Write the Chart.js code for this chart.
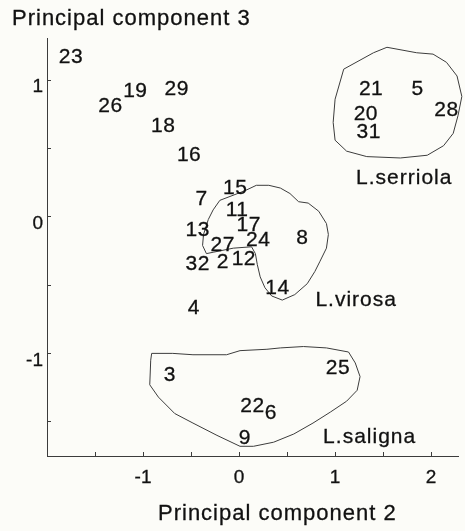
<!DOCTYPE html>
<html>
<head>
<meta charset="utf-8">
<script src="https://cdn.jsdelivr.net/npm/chart.js@4/dist/chart.umd.min.js"></script>
<style>
  html, body { margin: 0; padding: 0; background: #fcfcf8; }
  #wrap { width: 465px; height: 531px; }
</style>
</head>
<body>
<div id="wrap"><canvas id="c" width="465" height="531"></canvas></div>
<script>
// Sample numbers and their scores on principal components 2 and 3
const sampleIds = ['23','26','19','29','18','16','7','15','11','17','13','24','27','8','32','2','12','14','4','3','25','22','6','9','21','5','28','20','31'];
const pc2 = [-1.75,-1.34,-1.08,-0.65,-0.79,-0.52,-0.39,-0.04,-0.02,0.10,-0.43,0.20,-0.17,0.66,-0.43,-0.17,0.05,0.40,-0.47,-0.72,1.03,0.14,0.33,0.06,1.375,1.86,2.16,1.32,1.35];
const pc3 = [1.17,0.81,0.92,0.93,0.66,0.45,0.13,0.21,0.05,-0.06,-0.10,-0.17,-0.21,-0.16,-0.35,-0.33,-0.31,-0.52,-0.67,-1.16,-1.11,-1.39,-1.44,-1.62,0.93,0.93,0.78,0.75,0.62];

// Hand-drawn species outlines, as (pc2, pc3) vertices
const serriolaX = [1.09,1.40,1.54,1.85,2.02,2.16,2.27,2.32,2.28,2.23,2.13,1.96,1.68,1.33,1.12,1.00,0.98,1.00,1.09];
const serriolaY = [1.08,1.20,1.24,1.20,1.19,1.13,1.03,0.88,0.74,0.61,0.52,0.45,0.43,0.44,0.48,0.56,0.69,0.86,1.08];
const virosaX = [-0.20,0.06,0.18,0.31,0.43,0.53,0.62,0.72,0.83,0.91,0.93,0.91,0.84,0.79,0.71,0.58,0.45,0.34,0.27,0.22,0.19,0.17,0.13,-0.06,-0.27,-0.34,-0.38,-0.37,-0.32,-0.27,-0.20];
const virosaY = [0.12,0.19,0.23,0.23,0.21,0.17,0.11,0.10,0.04,-0.05,-0.13,-0.23,-0.33,-0.40,-0.49,-0.57,-0.61,-0.58,-0.52,-0.44,-0.35,-0.27,-0.22,-0.23,-0.26,-0.27,-0.21,-0.13,-0.02,0.05,0.12];
const salignaX = [-0.91,-0.69,-0.48,-0.13,0.01,0.29,0.43,0.67,0.91,1.14,1.21,1.26,1.23,1.12,0.95,0.77,0.57,0.36,0.15,0.01,-0.23,-0.48,-0.67,-0.84,-0.93,-0.92,-0.91];
const salignaY = [-1.00,-1.00,-1.01,-1.01,-0.98,-0.97,-0.96,-0.95,-0.96,-0.99,-1.07,-1.17,-1.27,-1.35,-1.43,-1.51,-1.59,-1.65,-1.68,-1.68,-1.60,-1.51,-1.44,-1.32,-1.23,-1.05,-1.00];

// Species names and where they sit in the plot (pc2, pc3)
const speciesNames = ['L.serriola','L.virosa','L.saligna'];
const speciesX = [1.72, 1.22, 1.36];
const speciesY = [0.28, -0.61, -1.61];

// Axis tick positions (labels only on whole numbers)
const xTicks = [-1.5,-1,-0.5,0,0.5,1,1.5,2];
const yTicks = [-1.5,-1,-0.5,0,0.5,1];

const xTitle = 'Principal component 2';
const yTitle = 'Principal component 3';

const FONT = '"Liberation Sans", Arial, Helvetica, sans-serif';
const INK = '#111111';
const LINE = '#3c3c3c';
const STROKE = 0.3;

const toPoints = (xs, ys) => xs.map((x, i) => ({ x, y: ys[i] }));
const outline = (xs, ys) => ({
  data: toPoints(xs, ys),
  showLine: true,
  pointRadius: 0,
  borderColor: LINE,
  borderWidth: 1,
  tension: 0,
  clip: false
});

// Filled text with a hairline stroke so the glyphs read a little heavier
function inkText(ctx, text, x, y) {
  ctx.fillText(text, x, y);
  ctx.strokeText(text, x, y);
}

const labelPlugin = {
  id: 'labels',
  afterDatasetsDraw(chart) {
    const ctx = chart.ctx;
    const xs = chart.scales.x, ys = chart.scales.y;
    ctx.save();
    ctx.fillStyle = INK;
    ctx.strokeStyle = INK;
    ctx.lineWidth = STROKE;
    ctx.textAlign = 'center';
    ctx.textBaseline = 'middle';
    ctx.font = '21px ' + FONT;
    ctx.letterSpacing = '0.5px';
    const meta = chart.getDatasetMeta(0);
    meta.data.forEach((pt, i) => inkText(ctx, sampleIds[i], pt.x, pt.y));
    ctx.letterSpacing = '1px';
    speciesNames.forEach((name, i) => {
      inkText(ctx, name, xs.getPixelForValue(speciesX[i]), ys.getPixelForValue(speciesY[i]));
    });
    // axis titles
    ctx.font = '22px ' + FONT;
    ctx.textAlign = 'left';
    ctx.textBaseline = 'alphabetic';
    inkText(ctx, yTitle, 12, 25);
    inkText(ctx, xTitle, 158, 520);
    ctx.restore();
  }
};

const tickLabel = v => Number.isInteger(v) ? String(v) : '';

new Chart(document.getElementById('c'), {
  type: 'scatter',
  data: {
    datasets: [
      { data: toPoints(pc2, pc3), pointRadius: 0, pointHoverRadius: 0, showLine: false },
      outline(serriolaX, serriolaY),
      outline(virosaX, virosaY),
      outline(salignaX, salignaY)
    ]
  },
  options: {
    responsive: false,
    animation: false,
    devicePixelRatio: 1,
    events: [],
    layout: { padding: { top: 38, right: 7, left: 0, bottom: 0 } },
    plugins: { legend: { display: false }, tooltip: { enabled: false } },
    scales: {
      x: {
        type: 'linear',
        min: -2,
        max: 2.28,
        afterBuildTicks: s => { s.ticks = xTicks.map(v => ({ value: v })); },
        afterFit: s => { s.height = 75; },
        border: { display: true, color: LINE, width: 1 },
        grid: { drawOnChartArea: false, drawTicks: true, tickLength: -4, color: LINE },
        ticks: { callback: tickLabel, padding: 14, color: INK, textStrokeColor: INK, textStrokeWidth: STROKE, font: { family: FONT, size: 19 }, maxRotation: 0, autoSkip: false }
      },
      y: {
        type: 'linear',
        min: -1.751,
        max: 1.308,
        afterBuildTicks: s => { s.ticks = yTicks.map(v => ({ value: v })); },
        afterFit: s => { s.width = 47; },
        border: { display: true, color: LINE, width: 1 },
        grid: { drawOnChartArea: false, drawTicks: true, tickLength: -4, color: LINE },
        ticks: { callback: tickLabel, padding: 8, labelOffset: 7, color: INK, textStrokeColor: INK, textStrokeWidth: STROKE, font: { family: FONT, size: 19 }, autoSkip: false }
      }
    }
  },
  plugins: [labelPlugin]
});
</script>
</body>
</html>
